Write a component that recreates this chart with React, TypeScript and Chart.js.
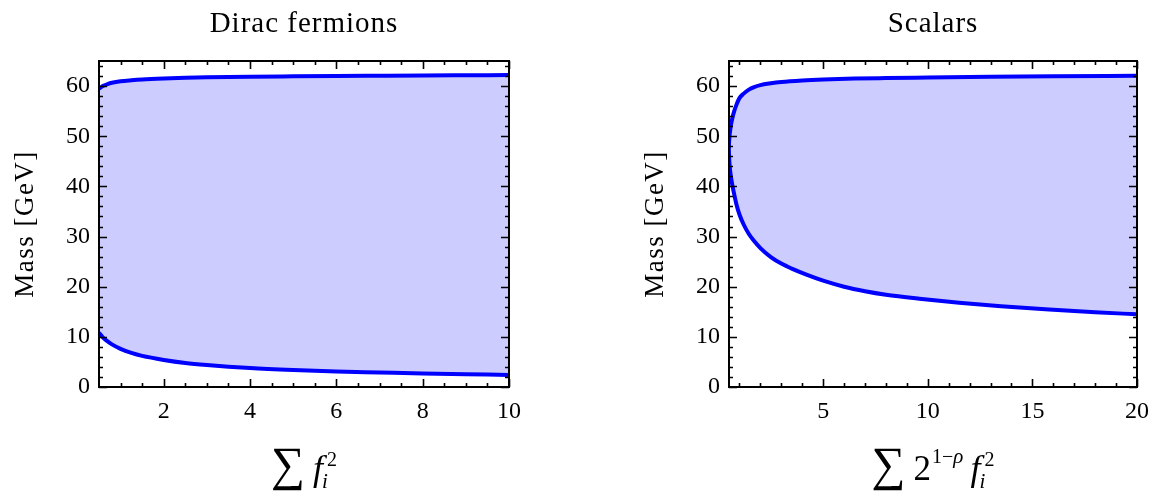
import React, { useEffect, useRef } from 'react';
import { Chart, registerables } from 'chart.js';

Chart.register(...registerables);

// ---------- data ----------
const diracX = [0.5, 0.55, 0.6, 0.7, 0.8, 1, 1.25, 1.5, 2, 2.5, 3, 4, 5, 6, 7, 8, 9, 10];
const diracUpper = [59.5, 59.8, 60.05, 60.4, 60.65, 60.95, 61.15, 61.3, 61.5, 61.65, 61.75, 61.87, 61.95, 62.02, 62.07, 62.12, 62.16, 62.2];
const diracLower = [10.8, 10.3, 9.8, 9.1, 8.5, 7.6, 6.8, 6.2, 5.4, 4.8, 4.4, 3.8, 3.4, 3.1, 2.9, 2.7, 2.55, 2.4];

const scalarUpperX = [0.49, 0.5, 0.52, 0.55, 0.6, 0.67, 0.75, 0.85, 1.0, 1.2, 1.45, 1.7, 2.0, 2.5, 3.0, 4, 5, 6.5, 8, 10, 13, 16, 20];
const scalarUpperY = [47.4, 48.5, 49.8, 51.0, 52.4, 53.8, 55.0, 56.2, 57.6, 58.5, 59.3, 59.8, 60.2, 60.55, 60.8, 61.1, 61.3, 61.5, 61.6, 61.7, 61.85, 61.95, 62.05];
const scalarLowerX = [0.49, 0.5, 0.52, 0.55, 0.6, 0.67, 0.75, 0.85, 1.0, 1.2, 1.45, 1.7, 2.0, 2.5, 3.0, 3.5, 4.2, 5, 6, 7, 8, 9.6, 11.5, 13.5, 16, 18, 20];
const scalarLowerY = [47.4, 46.3, 44.8, 43.3, 41.7, 40.0, 38.4, 36.5, 34.4, 32.4, 30.5, 29.1, 27.7, 25.9, 24.6, 23.6, 22.4, 21.2, 20.0, 19.1, 18.4, 17.6, 16.8, 16.1, 15.4, 14.9, 14.5];

const yTicks = [0, 10, 20, 30, 40, 50, 60];
const yMinor = [2, 4, 6, 8, 12, 14, 16, 18, 22, 24, 26, 28, 32, 34, 36, 38, 42, 44, 46, 48, 52, 54, 56, 58, 62, 64];
const diracXTicks = [2, 4, 6, 8, 10];
const diracXMinor = [1, 1.5, 2.5, 3, 3.5, 4.5, 5, 5.5, 6.5, 7, 7.5, 8.5, 9, 9.5];
const scalarXTicks = [5, 10, 15, 20];
const scalarXMinor = [1, 2, 3, 4, 6, 7, 8, 9, 11, 12, 13, 14, 16, 17, 18, 19];

const titles = ['Dirac fermions', 'Scalars'];
const yTitle = 'Mass [GeV]';

// ---------- layout ----------
const W = 575;
const H = 491;
const SERIF = '"Liberation Serif", "Times New Roman", serif';
const LINE = 'rgb(0,0,255)';
const FILL = 'rgba(0,0,255,0.2)';

type Panel = {
  title: string;
  xmin: number;
  xmax: number;
  xTicks: number[];
  xMinor: number[];
  upper: { x: number; y: number }[];
  lower: { x: number; y: number }[];
  plotLeft: number;
  plotRight: number;
  kind: 'dirac' | 'scalar';
};

const zip = (xs: number[], ys: number[]) => xs.map((x, i) => ({ x, y: ys[i] }));

const panels: Panel[] = [
  {
    title: titles[0],
    xmin: 0.5,
    xmax: 10,
    xTicks: diracXTicks,
    xMinor: diracXMinor,
    upper: zip(diracX, diracUpper),
    lower: zip(diracX, diracLower),
    plotLeft: 99,
    plotRight: 509,
    kind: 'dirac',
  },
  {
    title: titles[1],
    xmin: 0.5,
    xmax: 20,
    xTicks: scalarXTicks,
    xMinor: scalarXMinor,
    upper: zip(scalarUpperX, scalarUpperY),
    lower: zip(scalarLowerX, scalarLowerY),
    plotLeft: 154,
    plotRight: 562,
    kind: 'scalar',
  },
];

const PLOT_TOP = 61;
const PLOT_BOTTOM = 387;

function drawXTitle(ctx: CanvasRenderingContext2D, cx: number, kind: 'dirac' | 'scalar') {
  const base = 480;
  const main = `35px ${SERIF}`;
  const mainIt = `italic 36px ${SERIF}`;
  const scr = `20px ${SERIF}`;
  const scrIt = `italic 21px ${SERIF}`;
  ctx.font = `100px ${SERIF}`;
  const m = ctx.measureText('\u2211');
  const h100 = m.actualBoundingBoxAscent + m.actualBoundingBoxDescent || 70;
  const sumSize = (100 * 42) / h100;
  const sumFont = `${sumSize}px ${SERIF}`;
  ctx.font = sumFont;
  const sm = ctx.measureText('\u2211');
  const sumBase = 448 + sm.actualBoundingBoxAscent;

  const items: { t: string; font: string; x: number; y: number }[] = [];
  let x = 0;
  const put = (t: string, font: string, y: number, adv = true) => {
    ctx.font = font;
    const w = ctx.measureText(t).width;
    items.push({ t, font, x, y });
    if (adv) x += w;
    return w;
  };
  put('\u2211', sumFont, sumBase);
  x += 8;
  if (kind === 'scalar') {
    put('2', main, base);
    x += 1;
    put('1', scr, base - 17);
    put('\u2212', scr, base - 17);
    put('\u03C1', scrIt, base - 17);
    x += 7;
  }
  put('f', mainIt, base);
  const fEnd = x;
  x = fEnd + 4;
  const w2 = put('2', scr, base - 14, false);
  x = fEnd - 1;
  put('i', scrIt, base + 8, false);
  const total = fEnd + 4 + w2;
  const off = cx - total / 2;
  ctx.fillStyle = '#000';
  ctx.textBaseline = 'alphabetic';
  ctx.textAlign = 'left';
  for (const it of items) {
    ctx.font = it.font;
    ctx.fillText(it.t, off + it.x, it.y);
  }
}

function makePlugin(p: Panel) {
  return {
    id: 'frameAndText',
    afterDraw(chart: any) {
      const { ctx, chartArea: a } = chart;
      const xs = chart.scales.x;
      const ys = chart.scales.y;
      ctx.save();
      ctx.strokeStyle = '#000';
      ctx.lineWidth = 1.6;
      ctx.beginPath();
      const xMark = (vals: number[], len: number) => {
        for (const v of vals) {
          const px = Math.round(xs.getPixelForValue(v)) + 0.5;
          ctx.moveTo(px, a.bottom);
          ctx.lineTo(px, a.bottom - len);
          ctx.moveTo(px, a.top);
          ctx.lineTo(px, a.top + len);
        }
      };
      const yMark = (vals: number[], len: number) => {
        for (const v of vals) {
          const py = Math.round(ys.getPixelForValue(v)) + 0.5;
          ctx.moveTo(a.left, py);
          ctx.lineTo(a.left + len, py);
          ctx.moveTo(a.right, py);
          ctx.lineTo(a.right - len, py);
        }
      };
      xMark(p.xTicks, 8);
      xMark(p.xMinor, 4);
      yMark(yTicks, 8);
      yMark(yMinor, 4);
      ctx.stroke();
      ctx.lineWidth = 2;
      ctx.strokeRect(a.left, a.top, a.right - a.left, a.bottom - a.top);

      const cx = (a.left + a.right) / 2;
      const cy = (a.top + a.bottom) / 2;
      ctx.fillStyle = '#000';
      ctx.font = `29px ${SERIF}`;
      (ctx as any).letterSpacing = '1px';
      ctx.textAlign = 'center';
      ctx.textBaseline = 'alphabetic';
      ctx.fillText(p.title, cx, 32);
      ctx.save();
      ctx.translate(a.left - 66, cy);
      ctx.rotate(-Math.PI / 2);
      ctx.font = `27px ${SERIF}`;
      (ctx as any).letterSpacing = '1.5px';
      ctx.fillText(yTitle, 0, 0);
      ctx.restore();
      (ctx as any).letterSpacing = '0px';
      drawXTitle(ctx, cx, p.kind);
      ctx.restore();
    },
  };
}

function makeConfig(p: Panel): any {
  const tickFont = { family: SERIF, size: 24 };
  return {
    type: 'line',
    data: {
      datasets: [
        {
          data: p.upper,
          borderColor: LINE,
          borderWidth: 4,
          pointRadius: 0,
          fill: '+1',
          backgroundColor: FILL,
          cubicInterpolationMode: 'monotone',
        },
        {
          data: p.lower,
          borderColor: LINE,
          borderWidth: 4,
          pointRadius: 0,
          fill: false,
          backgroundColor: FILL,
          cubicInterpolationMode: 'monotone',
        },
      ],
    },
    options: {
      responsive: false,
      animation: false,
      devicePixelRatio: 1,
      layout: { padding: { left: 0, right: W - p.plotRight, top: PLOT_TOP, bottom: 0 } },
      plugins: {
        legend: { display: false },
        tooltip: { enabled: false },
        title: { display: false },
      },
      scales: {
        x: {
          type: 'linear',
          min: p.xmin,
          max: p.xmax,
          grid: { display: false, drawTicks: false },
          border: { display: false },
          afterBuildTicks: (s: any) => {
            s.ticks = p.xTicks.map((v) => ({ value: v }));
          },
          afterFit: (s: any) => {
            s.height = H - PLOT_BOTTOM;
            s.paddingLeft = 0;
            s.paddingRight = 0;
          },
          ticks: {
            font: tickFont,
            color: '#000',
            padding: 10,
            maxRotation: 0,
            autoSkip: false,
            callback: (v: any) => String(v),
          },
        },
        y: {
          type: 'linear',
          min: 0,
          max: 65,
          grid: { display: false, drawTicks: false },
          border: { display: false },
          afterBuildTicks: (s: any) => {
            s.ticks = yTicks.map((v) => ({ value: v }));
          },
          afterFit: (s: any) => {
            s.width = p.plotLeft;
            s.paddingTop = 0;
            s.paddingBottom = 0;
          },
          ticks: {
            font: tickFont,
            color: '#000',
            padding: 9,
            autoSkip: false,
            callback: (v: any) => String(v),
          },
        },
      },
    },
    plugins: [makePlugin(p)],
  };
}

function PanelChart({ p, left }: { p: Panel; left: number }) {
  const ref = useRef<HTMLCanvasElement | null>(null);
  useEffect(() => {
    if (!ref.current) return;
    const chart = new Chart(ref.current, makeConfig(p));
    return () => chart.destroy();
  }, [p]);
  return (
    <canvas
      ref={ref}
      width={W}
      height={H}
      style={{ position: 'absolute', left, top: 0, width: W, height: H }}
    />
  );
}

export default function App() {
  return (
    <div style={{ position: 'absolute', left: 0, top: 0, width: 1150, height: 491, background: '#fff' }}>
      <PanelChart p={panels[0]} left={0} />
      <PanelChart p={panels[1]} left={575} />
    </div>
  );
}
